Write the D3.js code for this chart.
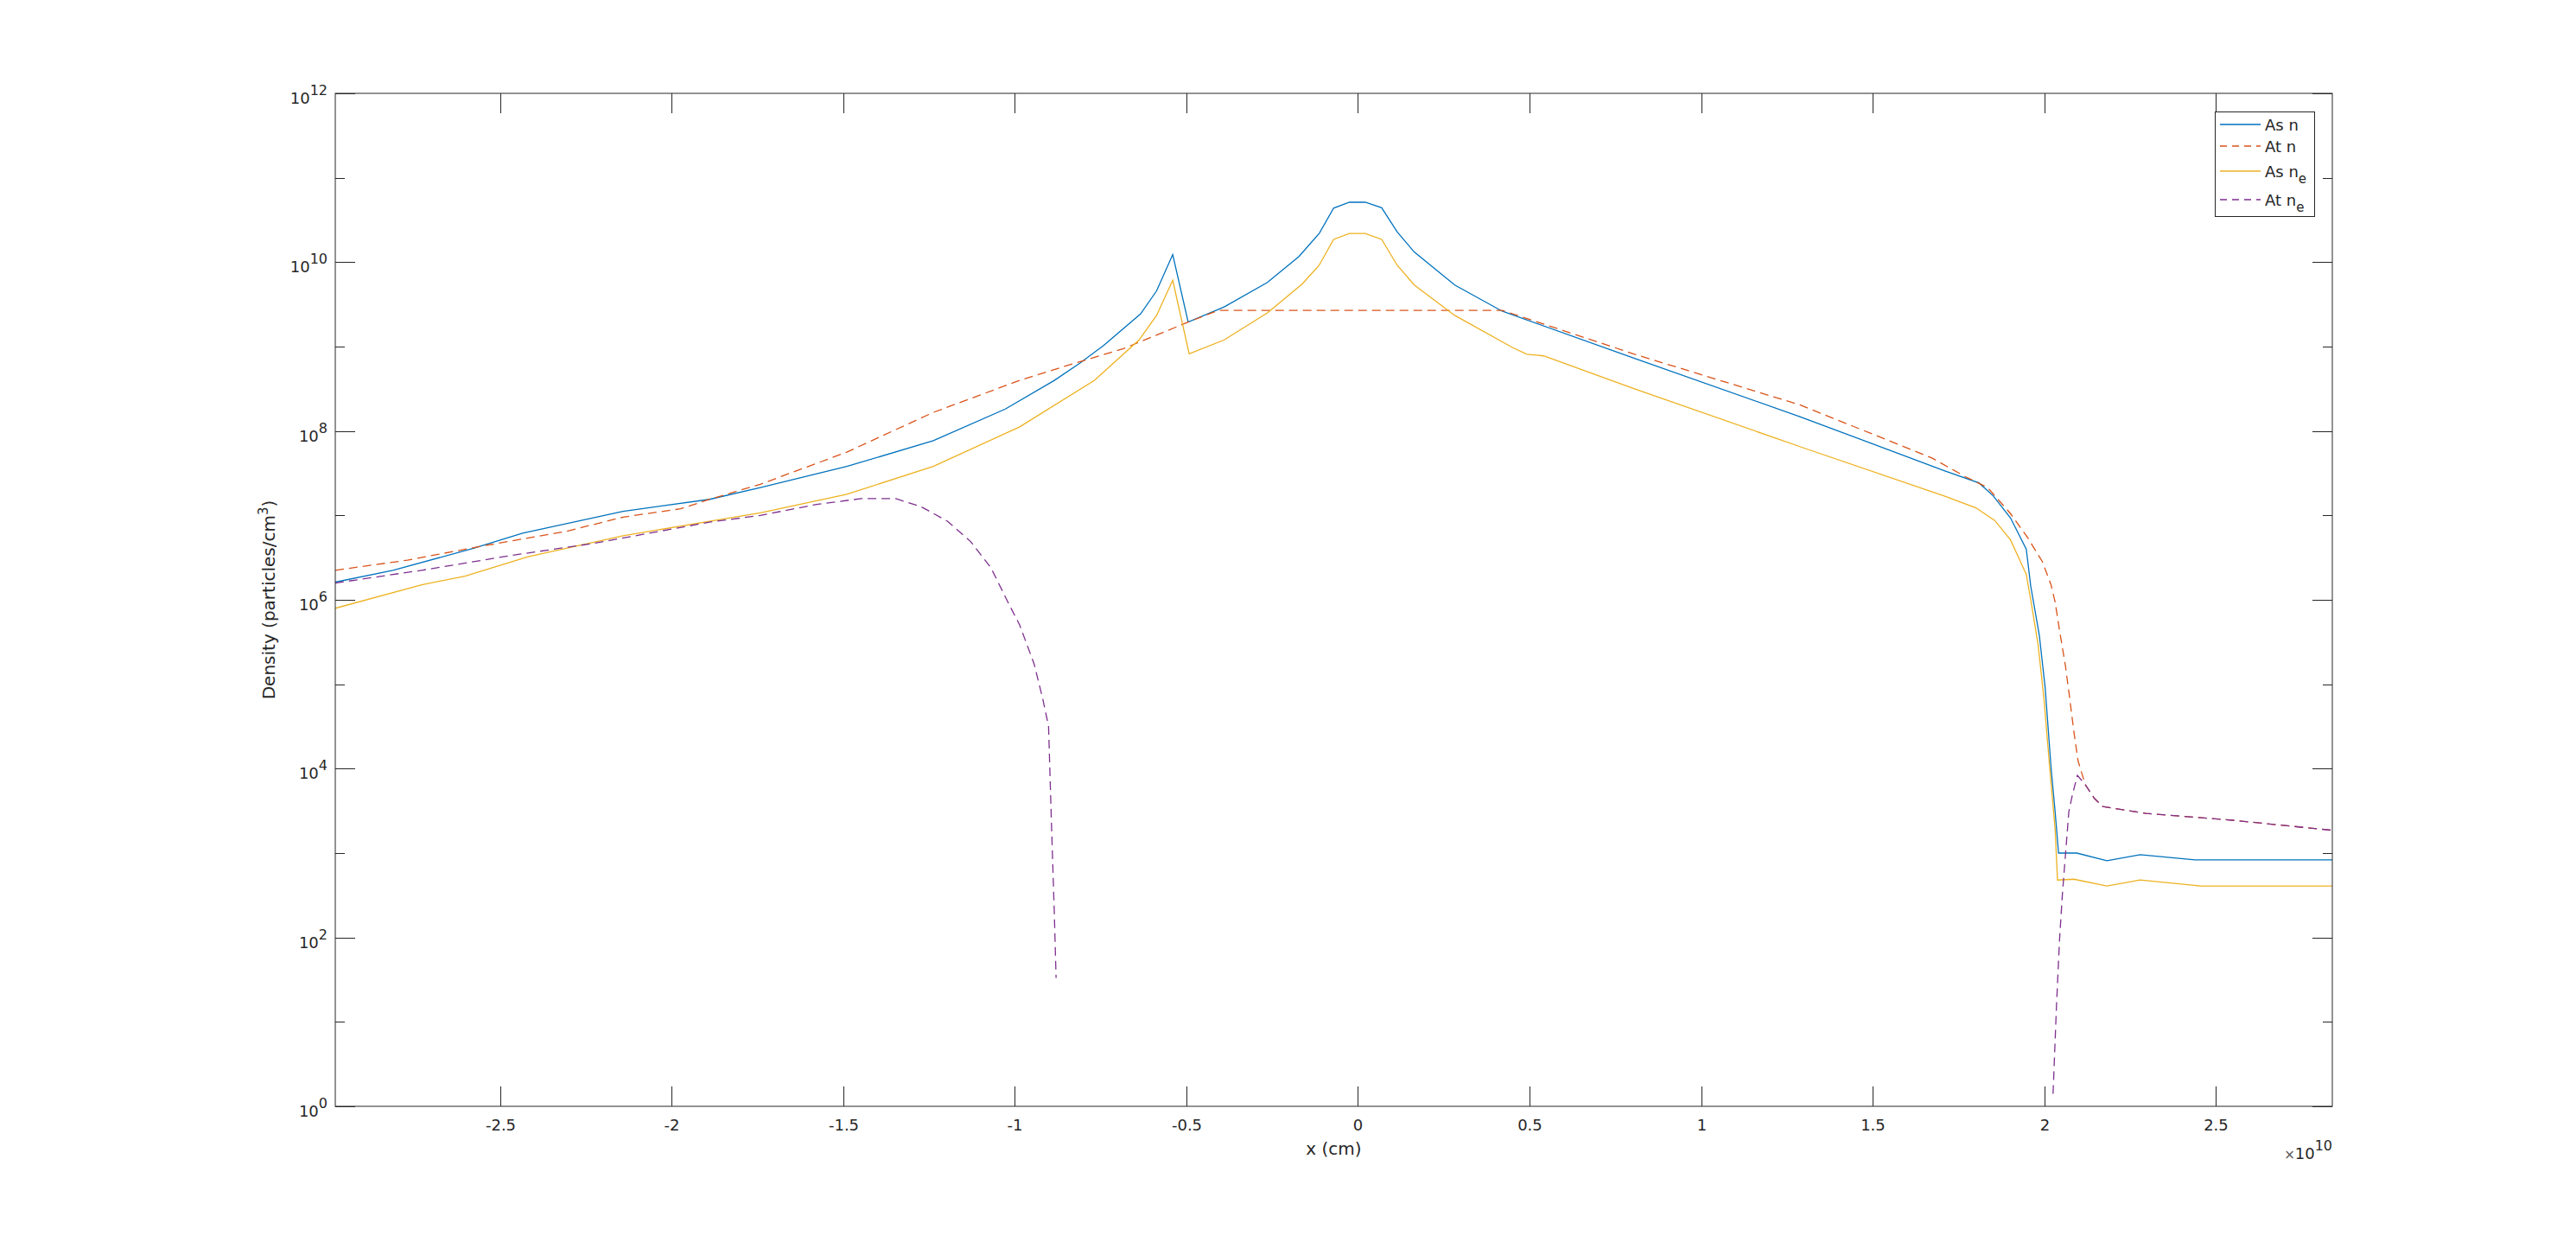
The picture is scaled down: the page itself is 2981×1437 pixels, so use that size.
<!DOCTYPE html>
<meta charset="utf-8">
<style>
body { margin: 0; background: #fff; }
text { font-family: "DejaVu Sans", sans-serif; fill: #262626; }
.frame { fill: none; stroke: #262626; stroke-width: 1; }
.tick { stroke: #262626; stroke-width: 1; }
.series { fill: none; stroke-width: 1.3; }
</style>
<body>
<svg width="2981" height="1437"></svg>
<script src="https://d3js.org/d3.v7.min.js"></script>
<script>

// x positions are in units of 1e10 cm, densities in particles/cm^3
var xAsN = [-2.981, -2.813, -2.578, -2.435, -2.142, -1.89, -1.742, -1.49, -1.238, -1.028, -0.885, -0.81, -0.743, -0.634, -0.587, -0.54, -0.495, -0.39, -0.264, -0.172, -0.113, -0.071, -0.025, 0.021, 0.069, 0.114, 0.164, 0.282, 0.42, 0.806, 1.288, 1.709, 1.81, 1.852, 1.902, 1.948, 1.961, 1.986, 2.003, 2.02, 2.032, 2.042, 2.095, 2.183, 2.28, 2.44, 2.84];
var asN  = [1.62e6, 2.24e6, 4.07e6, 6.17e6, 1.12e7, 1.55e7, 2.14e7, 3.80e7, 7.67e7, 1.82e8, 3.98e8, 6.38e8, 1.02e9, 2.43e9, 4.57e9, 1.23e10, 1.95e9, 2.95e9, 5.75e9, 1.17e10, 2.19e10, 4.37e10, 5.13e10, 5.13e10, 4.42e10, 2.29e10, 1.32e10, 5.37e9, 2.63e9, 7.24e8, 1.48e8, 3.39e7, 2.43e7, 1.70e7, 9.33e6, 3.98e6, 1.45e6, 3.80e5, 9.12e4, 1.05e4, 3.09e3, 1.00e3, 1.00e3, 813, 955, 832, 832];

var xAtN = [-2.981, -2.771, -2.561, -2.309, -2.142, -1.974, -1.89, -1.742, -1.49, -1.238, -0.986, -0.852, -0.684, -0.495, -0.407, 0.42, 0.806, 1.288, 1.673, 1.77, 1.835, 1.902, 1.953, 1.995, 2.02, 2.032, 2.045, 2.062, 2.074, 2.087, 2.099, 2.12, 2.146, 2.171, 2.297, 2.549, 2.84];
var atN  = [2.24e6, 2.95e6, 4.27e6, 6.46e6, 9.55e6, 1.20e7, 1.55e7, 2.34e7, 5.62e7, 1.66e8, 3.98e8, 5.89e8, 9.44e8, 1.95e9, 2.69e9, 2.69e9, 8.13e8, 2.04e8, 4.79e7, 2.88e7, 2.14e7, 1.05e7, 5.37e6, 2.82e6, 1.51e6, 9.44e5, 4.32e5, 1.66e5, 7.08e4, 2.69e4, 1.23e4, 6.46e3, 4.47e3, 3.55e3, 2.95e3, 2.45e3, 1.86e3];

var xAsNe = [-2.981, -2.729, -2.603, -2.419, -2.142, -1.89, -1.742, -1.49, -1.238, -0.986, -0.768, -0.638, -0.587, -0.54, -0.492, -0.39, -0.264, -0.163, -0.113, -0.071, -0.025, 0.021, 0.069, 0.114, 0.164, 0.282, 0.45, 0.492, 0.541, 0.806, 1.288, 1.709, 1.801, 1.856, 1.902, 1.948, 1.961, 1.982, 1.999, 2.016, 2.032, 2.039, 2.087, 2.183, 2.28, 2.456, 2.84];
var asNe  = [7.94e5, 1.51e6, 1.91e6, 3.24e6, 5.75e6, 8.51e6, 1.07e7, 1.78e7, 3.80e7, 1.12e8, 3.98e8, 1.20e9, 2.34e9, 6.10e9, 8.22e8, 1.20e9, 2.51e9, 5.50e9, 9.23e9, 1.86e10, 2.19e10, 2.19e10, 1.86e10, 9.23e9, 5.37e9, 2.34e9, 9.77e8, 8.13e8, 7.76e8, 3.16e8, 6.53e7, 1.70e7, 1.23e7, 8.71e6, 5.13e6, 2.00e6, 1.00e6, 3.02e5, 7.08e4, 1.05e4, 1.91e3, 479, 490, 407, 479, 407, 407];

// null marks where At n_e drops out of the log axis
var xAtNe = [-2.981, -2.729, -2.477, -2.226, -1.89, -1.742, -1.574, -1.448, -1.347, -1.272, -1.196, -1.129, -1.07, -1.02, -0.986, -0.944, -0.919, -0.907, -0.902, -0.894, -0.885, -0.88, 0.5, 2.026, 2.036, 2.045, 2.053, 2.062, 2.072, 2.083, 2.097, 2.12, 2.146, 2.171, 2.297, 2.549, 2.84];
var atNe  = [1.58e6, 2.24e6, 3.31e6, 4.68e6, 8.32e6, 1.00e7, 1.36e7, 1.58e7, 1.58e7, 1.26e7, 8.51e6, 4.90e6, 2.40e6, 9.33e5, 5.01e5, 1.74e5, 6.76e4, 3.98e4, 3.24e4, 2.63e3, 186, 33.1, null, 1.41, 15.5, 95.5, 316, 933, 3.09e3, 5.01e3, 8.32e3, 6.46e3, 4.47e3, 3.55e3, 2.95e3, 2.45e3, 1.86e3];

var xTicks = [-2.5, -2, -1.5, -1, -0.5, 0, 0.5, 1, 1.5, 2, 2.5];
var yLabelExps = [0, 2, 4, 6, 8, 10, 12];
var seriesNames = ["As n", "At n", "As n", "At n"];
var seriesSubs = ["", "", "e", "e"];
var colors = ["#0072BD", "#D95319", "#EDB120", "#7E2F8E"];
var dashed = [false, true, false, true];

var svg = d3.select("svg");
var pLeft = 388, pRight = 2699, pTop = 108, pBottom = 1280;

var x = d3.scaleLinear().domain([-2.981, 2.840]).range([pLeft, pRight]);
var y = d3.scaleLog().domain([1, 1e12]).range([pBottom, pTop]);

svg.append("defs").append("clipPath").attr("id", "plot")
  .append("rect").attr("x", pLeft).attr("y", pTop)
  .attr("width", pRight - pLeft).attr("height", pBottom - pTop);

var series = [
  {xs: xAsN, ys: asN},
  {xs: xAtN, ys: atN},
  {xs: xAsNe, ys: asNe},
  {xs: xAtNe, ys: atNe}
];

var line = d3.line()
    .defined(function(d) { return d[1] != null; })
    .x(function(d) { return x(d[0]); })
    .y(function(d) { return y(d[1]); });

var plot = svg.append("g").attr("clip-path", "url(#plot)");
series.forEach(function(s, i) {
  plot.append("path")
      .datum(s.xs.map(function(v, j) { return [v, s.ys[j]]; }))
      .attr("class", "series")
      .attr("stroke", colors[i])
      .attr("stroke-dasharray", dashed[i] ? "10,6" : null)
      .attr("d", line);
});

// axes box and inward ticks on all four sides
var axes = svg.append("g");
axes.append("rect").attr("class", "frame")
    .attr("x", pLeft).attr("y", pTop)
    .attr("width", pRight - pLeft).attr("height", pBottom - pTop);

xTicks.forEach(function(t) {
  var px = Math.round(x(t)) + 0.5;
  axes.append("line").attr("class", "tick").attr("x1", px).attr("x2", px).attr("y1", pBottom).attr("y2", pBottom - 23);
  axes.append("line").attr("class", "tick").attr("x1", px).attr("x2", px).attr("y1", pTop).attr("y2", pTop + 23);
  axes.append("text").attr("x", px).attr("y", pBottom + 28)
      .attr("text-anchor", "middle").style("font-size", "18px")
      .text(t);
});

y.ticks().forEach(function(t) {
  var e = Math.log10(t);
  var major = yLabelExps.some(function(k) { return Math.abs(e - k) < 1e-9; });
  var len = major ? 23 : 11;
  var py = Math.round(y(t)) + 0.5;
  axes.append("line").attr("class", "tick").attr("x1", pLeft).attr("x2", pLeft + len).attr("y1", py).attr("y2", py);
  axes.append("line").attr("class", "tick").attr("x1", pRight).attr("x2", pRight - len).attr("y1", py).attr("y2", py);
  if (major) {
    var lab = axes.append("text").attr("x", pLeft - 9).attr("y", py + 11)
        .attr("text-anchor", "end").style("font-size", "18px");
    lab.append("tspan").text("10");
    lab.append("tspan").attr("dy", -10).style("font-size", "16px").text(Math.round(e));
  }
});

// exponent marker for the x axis
var mult = axes.append("text").attr("x", pRight).attr("y", 1341)
    .attr("text-anchor", "end").style("font-size", "18px");
mult.append("tspan").style("font-size", "15px").style("fill", "#555").text("\u00d7");
mult.append("tspan").text("10");
mult.append("tspan").attr("dy", -10).style("font-size", "16px").text("10");

// axis labels
svg.append("text").attr("x", (pLeft + pRight) / 2).attr("y", 1336)
    .attr("text-anchor", "middle").style("font-size", "20px").text("x (cm)");

var ylab = svg.append("text")
    .attr("transform", "translate(318," + ((pTop + pBottom) / 2) + ") rotate(-90)")
    .attr("text-anchor", "middle").style("font-size", "20px");
ylab.append("tspan").text("Density (particles/cm");
ylab.append("tspan").attr("dy", -8).style("font-size", "15px").text("3");
ylab.append("tspan").attr("dy", 8).text(")");

// legend
var legend = svg.append("g");
legend.append("rect").attr("x", 2563.5).attr("y", 129.5).attr("width", 115).attr("height", 121)
    .attr("fill", "#fff").attr("stroke", "#262626").attr("stroke-width", 1);
var rowY = [144, 169, 198, 231];
seriesNames.forEach(function(name, i) {
  legend.append("line")
      .attr("x1", 2569).attr("x2", 2616).attr("y1", rowY[i]).attr("y2", rowY[i])
      .attr("stroke", colors[i]).attr("stroke-width", 1.3)
      .attr("stroke-dasharray", dashed[i] ? "8,6" : null);
  var t = legend.append("text").attr("x", 2621).attr("y", rowY[i] + 7).style("font-size", "18px");
  t.append("tspan").text(name);
  if (seriesSubs[i]) t.append("tspan").attr("dy", 7).style("font-size", "15px").text(seriesSubs[i]);
});

</script>
</body>
